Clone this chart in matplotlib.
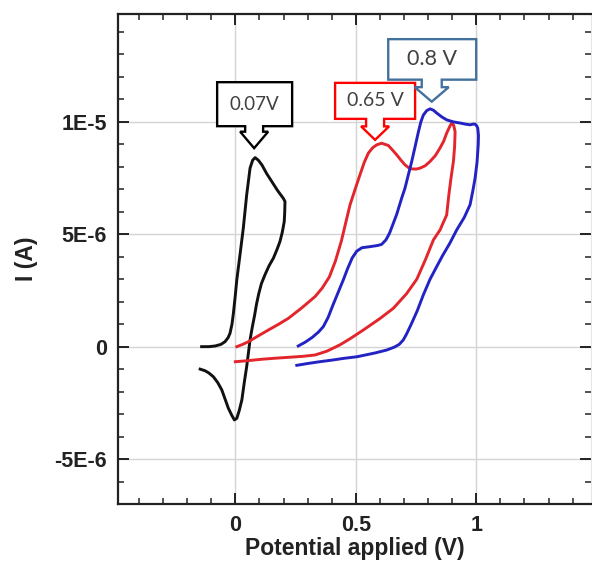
import matplotlib
matplotlib.use('Agg')
import matplotlib.pyplot as plt
import matplotlib.transforms as mtransforms
from matplotlib.patches import Polygon
from matplotlib.ticker import MultipleLocator, FuncFormatter

# Voltammetry curves (V, microamps)
black_v = [-0.14, -0.11, -0.084, -0.06, -0.043, -0.03, -0.022, -0.014, -0.008, 0.0,
           0.006, 0.02, 0.033, 0.047, 0.061, 0.072, 0.082, 0.095, 0.11, 0.13,
           0.151, 0.175, 0.199, 0.206, 0.205, 0.203, 0.195, 0.185, 0.172, 0.158,
           0.14, 0.123, 0.108, 0.097, 0.088, 0.08, 0.07, 0.061, 0.054, 0.047, 0.037,
           0.027, 0.016, 0.006, -0.004, -0.015, -0.029, -0.042, -0.056, -0.073, -0.091,
           -0.11, -0.126, -0.146]
black_i = [0.0, 0.0, 0.03, 0.1, 0.22, 0.4, 0.6, 1.0, 1.49, 2.3,
           2.97, 4.15, 5.27, 6.75, 7.94, 8.3, 8.41, 8.3, 8.09, 7.7,
           7.35, 6.95, 6.6, 6.46, 6.0, 5.57, 5.1, 4.67, 4.3, 3.94,
           3.6, 3.2, 2.8, 2.35, 1.9, 1.4, 0.85, 0.3, -0.3, -0.89, -1.6,
           -2.37, -2.85, -3.19, -3.26, -3.05, -2.74, -2.35, -1.93, -1.6, -1.34,
           -1.17, -1.07, -1.0]

red_v = [0.006, 0.03, 0.054, 0.095, 0.137, 0.18, 0.22, 0.275, 0.331, 0.36,
         0.39, 0.415, 0.44, 0.46, 0.476, 0.497, 0.517, 0.535, 0.552, 0.57,
         0.587, 0.607, 0.635, 0.652, 0.67, 0.687, 0.704, 0.718, 0.732, 0.75,
         0.766, 0.788, 0.808, 0.83, 0.849, 0.865, 0.877, 0.89, 0.898,
         0.906, 0.912, 0.91, 0.905, 0.895, 0.886, 0.877, 0.86, 0.85, 0.822,
         0.79, 0.753, 0.71, 0.656, 0.6, 0.531, 0.48, 0.434, 0.38, 0.331,
         0.28, 0.227, 0.17, 0.11, 0.055, 0.0]
red_i = [0.0, 0.1, 0.22, 0.48, 0.74, 1.0, 1.26, 1.72, 2.23, 2.6,
         3.1, 3.8, 4.7, 5.6, 6.31, 7.0, 7.64, 8.2, 8.61, 8.85,
         8.98, 9.05, 8.95, 8.75, 8.53, 8.3, 8.09, 7.97, 7.91, 7.9,
         7.94, 8.05, 8.24, 8.5, 8.83, 9.15, 9.5, 9.8, 9.95,
         9.85, 9.57, 8.9, 8.24, 7.5, 6.75, 5.86, 5.45, 5.2, 4.75,
         3.9, 3.0, 2.35, 1.71, 1.25, 0.74, 0.38, 0.08, -0.2, -0.37,
         -0.43, -0.47, -0.51, -0.56, -0.62, -0.67]

blue_v = [0.261, 0.29, 0.32, 0.345, 0.365, 0.385, 0.405, 0.428, 0.448, 0.465,
          0.485, 0.504, 0.525, 0.559, 0.59, 0.607, 0.625, 0.64, 0.656, 0.67,
          0.69, 0.704, 0.718, 0.732, 0.746, 0.76, 0.77, 0.78, 0.794, 0.808,
          0.822, 0.836, 0.857, 0.877, 0.905, 0.932, 0.955, 0.974, 0.986, 0.995,
          1.002, 1.006, 1.009, 1.008, 1.003, 0.995, 0.985, 0.974, 0.95, 0.919,
          0.89, 0.86, 0.835, 0.808, 0.78, 0.755, 0.73, 0.71, 0.697, 0.68,
          0.66, 0.628, 0.58, 0.54, 0.504, 0.45, 0.40, 0.35, 0.30, 0.255]
blue_i = [0.03, 0.2, 0.42, 0.65, 0.89, 1.3, 1.85, 2.45, 2.97, 3.45,
          3.95, 4.25, 4.4, 4.45, 4.5, 4.55, 4.75, 5.05, 5.5, 5.9,
          6.6, 7.05, 7.65, 8.24, 8.9, 9.57, 10.0, 10.3, 10.5, 10.58,
          10.52, 10.39, 10.22, 10.09, 10.0, 9.95, 9.9, 9.87, 9.9, 9.9,
          9.82, 9.72, 9.4, 8.98, 8.2, 7.5, 6.9, 6.31, 5.75, 5.2,
          4.6, 4.05, 3.55, 3.0, 2.3, 1.6, 1.0, 0.55, 0.3, 0.1,
          -0.02, -0.15, -0.28, -0.37, -0.45, -0.52, -0.6, -0.67, -0.75, -0.83]

y_ticks = [-5e-6, 0, 5e-6, 1e-5]
y_tick_labels = ['-5E-6', '0', '5E-6', '1E-5']

# callouts: (label, tip V, tip A, colour, fontsize)
callouts = [
    ('0.07V', 0.078, 8.83e-6, '#000000', 13.5),
    ('0.65 V', 0.58, 9.2e-6, '#ff0000', 14),
    ('0.8 V', 0.815, 10.9e-6, '#41719c', 15.5),
]

plt.rcParams['font.family'] = ['Liberation Sans', 'DejaVu Sans']

fig = plt.figure(figsize=(5.92, 5.62), dpi=100)
ax = fig.add_axes([118 / 592, 58 / 562, (591 - 118) / 592, 490 / 562])

ua = 1e-6
ax.plot(black_v, [v * ua for v in black_i], color='#111111', lw=2.1, zorder=3)
ax.plot(red_v, [v * ua for v in red_i], color='#e3262c', lw=2.1, zorder=3)
ax.plot(blue_v, [v * ua for v in blue_i], color='#2323c4', lw=2.1, zorder=3)

ax.set_xlim(-0.487, 1.476)
ax.set_ylim(-7.0e-6, 14.8e-6)

ax.xaxis.set_major_locator(MultipleLocator(0.5))
ax.xaxis.set_minor_locator(MultipleLocator(0.1))
ax.set_yticks(y_ticks)
ax.yaxis.set_minor_locator(MultipleLocator(1e-6))
ax.set_yticklabels(y_tick_labels)
ax.xaxis.set_major_formatter(FuncFormatter(lambda v, p: f'{v:g}'))

ax.grid(True, which='major', color='#d4d4d4', lw=1.0, zorder=0)
ax.tick_params(which='both', direction='in', top=True, right=True, color='#222222')
ax.tick_params(which='major', length=8, width=1.4, labelsize=15.5, pad=8)
ax.tick_params(which='minor', length=4, width=1.1)
for lab in ax.get_xticklabels() + ax.get_yticklabels():
    lab.set_fontweight('bold')
    lab.set_color('#222222')

for side in ['left', 'bottom', 'top']:
    ax.spines[side].set_linewidth(1.6)
    ax.spines[side].set_color('#222222')
ax.spines['right'].set_color('#e6e6e6')

ax.set_xlabel('Potential applied (V)', fontsize=16.5, fontweight='bold', color='#222222', labelpad=1)
ax.set_ylabel('I (A)', fontsize=16.5, fontweight='bold', color='#222222', labelpad=12)

# callout shape, in pixels relative to the arrow tip
geoms = [
    (-37, 38, 22, 66, 9, 14, 16.5),
    (-40, 40, 21, 57, 9, 14, 13.5),
    (-43.5, 44.5, 22, 62.5, 10, 17, 14.5),
]
for (label, xv, yv, col, fs), g in zip(callouts, geoms):
    left, right, bot, top, sw, hw, hh = g
    trans = mtransforms.ScaledTranslation(xv, yv, ax.transData)
    verts = [(-hw, hh), (-sw, hh), (-sw, bot), (left, bot), (left, top),
             (right, top), (right, bot), (sw, bot), (sw, hh), (hw, hh), (0, 0)]
    poly = Polygon(verts, closed=True, transform=trans, facecolor='white',
                   edgecolor=col, lw=1.7, clip_on=False, zorder=5)
    ax.add_patch(poly)
    ax.text((left + right) / 2, (bot + top) / 2, label, transform=trans,
            ha='center', va='center', fontsize=fs, color='#404040',
            family=['Lato', 'DejaVu Sans'], zorder=6)

fig.savefig('out.png', dpi=100)
